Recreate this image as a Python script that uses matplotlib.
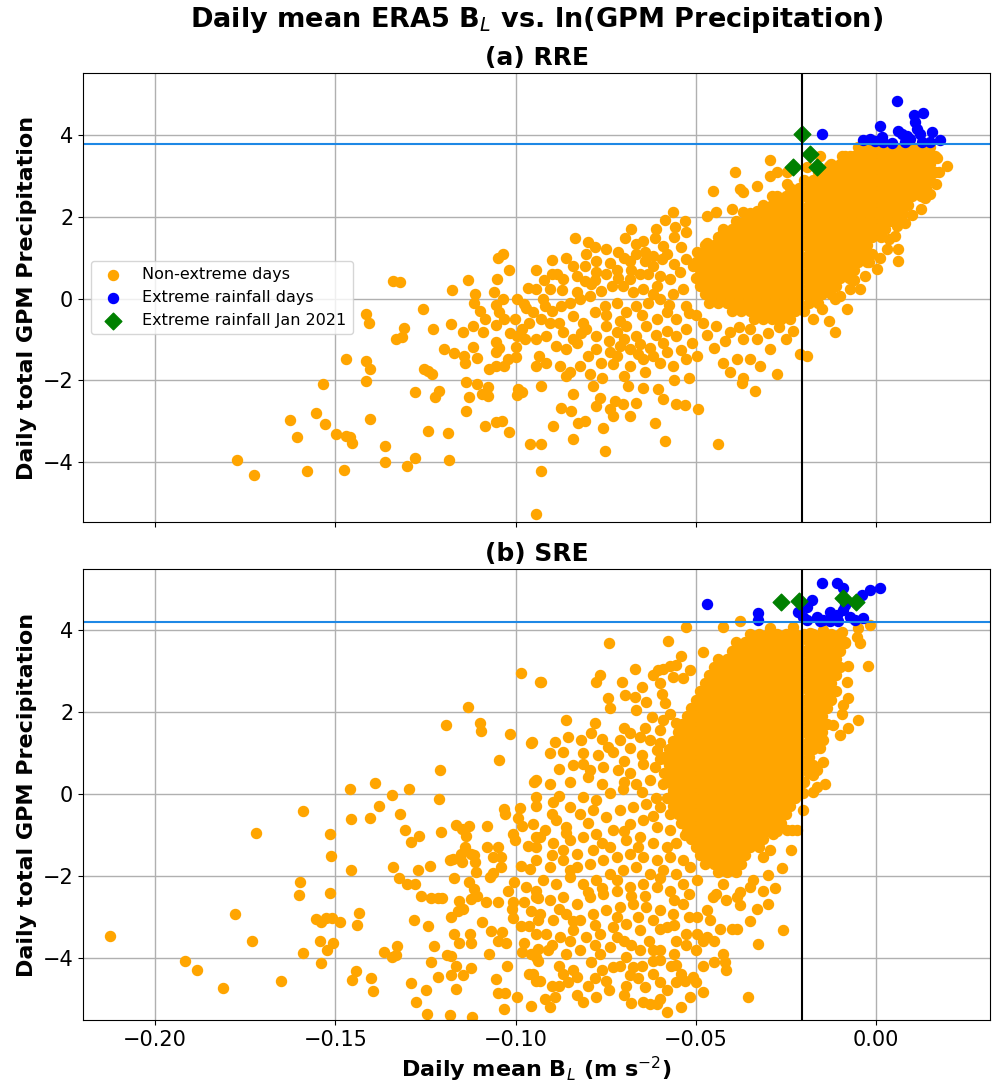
import matplotlib
matplotlib.use("Agg")
import matplotlib.pyplot as plt

# ---------------- thresholds ----------------
rre_rain_threshold = 3.78
sre_rain_threshold = 4.20
bl_threshold = -0.0205

# ---------------- (a) RRE : non-extreme days (scattered points) ----------------
rre_points = [
    (-0.1534, -2.08), (-0.1415, -2.01), (-0.1278, -2.29), (-0.1212, -2.27), (-0.1223, -2.41), (-0.1138, -2.05),
    (-0.1106, -2.09), (-0.1076, -2.17), (-0.1129, -2.41), (-0.1094, -2.34), (-0.1076, -2.38), (-0.1138, -2.76),
    (-0.0994, -2.21), (-0.0982, -2.29), (-0.0997, -2.35), (-0.0930, -2.13), (-0.1625, -2.98), (-0.1555, -2.80),
    (-0.1530, -3.07), (-0.1607, -3.40), (-0.1405, -2.95), (-0.1498, -3.31), (-0.1471, -3.37), (-0.1459, -3.39),
    (-0.1455, -3.54), (-0.1361, -3.60), (-0.1242, -3.24), (-0.1187, -3.28), (-0.1085, -3.13), (-0.1055, -3.02),
    (-0.1039, -3.01), (-0.1018, -3.27), (-0.0960, -3.57), (-0.0930, -3.55), (-0.1772, -3.96), (-0.1727, -4.33),
    (-0.1579, -4.21), (-0.1476, -4.20), (-0.1362, -3.99), (-0.1300, -4.11), (-0.1278, -3.90), (-0.1184, -3.95),
    (-0.0930, -4.23), (-0.0944, -5.27),
    (-0.1050, 1.00), (-0.1034, 1.09), (-0.1018, 0.70), (-0.1053, 0.47), (-0.1131, 0.46), (-0.1340, 0.43),
    (-0.1320, 0.41), (-0.1177, 0.21), (-0.1112, 0.12), (-0.1061, 0.15), (-0.1036, -0.02), (-0.0997, 0.00),
    (-0.0967, 0.25), (-0.1115, -0.10), (-0.1055, -0.16), (-0.0976, -0.14), (-0.1258, -0.25), (-0.1098, -0.30),
    (-0.1085, -0.49), (-0.1045, -0.34), (-0.1031, -0.51), (-0.1002, -0.51), (-0.0971, -0.22), (-0.0962, -0.60),
    (-0.1416, -0.38), (-0.1408, -0.59), (-0.1309, -0.71), (-0.1332, -1.00), (-0.1316, -0.93), (-0.1229, -0.75),
    (-0.1180, -0.63), (-0.1118, -0.67), (-0.1145, -0.82), (-0.1090, -0.83), (-0.1055, -0.65), (-0.1015, -0.85),
    (-0.0997, -0.92), (-0.0981, -0.75), (-0.0973, -1.00), (-0.1198, -1.23), (-0.1172, -1.34), (-0.1118, -1.18),
    (-0.1143, -1.41), (-0.1107, -1.46), (-0.1055, -1.06), (-0.1045, -1.20), (-0.1000, -1.18), (-0.1055, -1.32),
    (-0.1022, -1.49), (-0.1000, -1.42), (-0.0934, -1.41), (-0.1140, -1.57), (-0.1073, -1.73), (-0.1055, -1.65),
    (-0.1033, -1.65), (-0.1254, -1.72), (-0.1243, -1.77), (-0.1231, -1.85), (-0.1471, -1.49), (-0.1414, -1.53),
    (-0.1405, -1.73),
    (-0.0943, 0.70), (-0.0898, 0.60), (-0.0885, 0.60), (-0.0836, 1.47), (-0.0799, 1.39), (-0.0781, 1.25),
    (-0.0804, 1.09), (-0.0841, 0.80), (-0.0808, 0.80), (-0.0776, 0.92), (-0.0739, 0.88), (-0.0716, 1.13),
    (-0.0697, 1.47), (-0.0667, 1.33), (-0.0646, 1.41), (-0.0665, 1.09), (-0.0683, 0.92), (-0.0642, 0.92),
    (-0.0614, 1.48), (-0.0591, 1.29), (-0.0586, 1.93), (-0.0563, 2.11), (-0.0558, 1.74), (-0.0526, 1.62),
    (-0.0595, 0.96), (-0.0619, 0.80), (-0.0632, 0.60), (-0.0656, 0.60), (-0.0683, 0.47), (-0.0716, 0.51),
    (-0.0748, 0.60), (-0.0776, 0.64), (-0.0808, 0.43), (-0.0831, 0.56), (-0.0869, 0.47), (-0.0906, 0.23),
    (-0.0924, -0.02), (-0.0943, 0.23), (-0.0919, -0.18), (-0.0952, -0.34), (-0.0929, -0.51), (-0.0906, -0.59),
    (-0.0873, -0.18), (-0.0850, -0.10), (-0.0822, -0.02), (-0.0794, 0.07), (-0.0762, 0.19), (-0.0734, 0.31),
    (-0.0702, 0.31), (-0.0674, 0.15), (-0.0646, 0.23), (-0.0609, 0.31), (-0.0572, 0.47), (-0.0544, 0.64),
    (-0.0526, 0.96), (-0.0841, -0.42), (-0.0813, -0.59), (-0.0781, -0.34), (-0.0753, -0.18), (-0.0720, -0.10),
    (-0.0693, -0.34), (-0.0665, -0.18), (-0.0632, -0.10), (-0.0600, -0.02), (-0.0563, 0.11), (-0.0535, 0.23),
    (-0.0869, -0.83), (-0.0841, -1.00), (-0.0804, -0.75), (-0.0776, -0.92), (-0.0748, -0.67), (-0.0720, -0.83),
    (-0.0693, -0.67), (-0.0665, -0.92), (-0.0637, -0.67), (-0.0609, -0.51), (-0.0581, -0.34), (-0.0554, -0.51),
    (-0.0526, -0.18), (-0.0943, -1.00), (-0.0915, -0.92), (-0.0887, -1.16), (-0.0859, -1.24), (-0.0831, -1.08),
    (-0.0776, -1.24), (-0.0739, -1.32), (-0.0711, -1.16), (-0.0683, -1.24), (-0.0656, -1.12), (-0.0628, -1.20),
    (-0.0591, -1.08), (-0.0554, -0.92), (-0.0526, -0.75), (-0.0943, -1.65), (-0.0915, -1.57), (-0.0878, -1.65),
    (-0.0850, -1.81), (-0.0822, -1.65), (-0.0794, -1.85), (-0.0762, -1.57), (-0.0730, -1.61), (-0.0683, -1.65),
    (-0.0646, -1.49), (-0.0600, -1.57), (-0.0563, -1.65), (-0.0526, -1.49), (-0.0498, -1.41), (-0.0859, -1.90),
    (-0.0785, -2.14), (-0.0767, -2.43), (-0.0841, -2.34), (-0.0776, -2.63), (-0.0739, -2.71), (-0.0725, -2.51),
    (-0.0702, -2.59), (-0.0665, -2.55), (-0.0688, -2.14), (-0.0646, -2.18), (-0.0605, -2.22), (-0.0591, -2.47),
    (-0.0683, -2.88), (-0.0730, -2.88), (-0.0873, -2.67), (-0.0845, -2.75), (-0.0896, -3.12), (-0.0827, -3.04),
    (-0.0808, -3.00), (-0.0757, -3.16), (-0.0614, -3.04), (-0.0554, -2.59), (-0.0531, -2.61), (-0.0494, -2.71),
    (-0.0841, -3.45), (-0.0753, -3.73), (-0.0586, -3.49), (-0.0438, -3.57),
    (-0.0452, 2.64), (-0.0392, 3.09), (-0.0378, 2.68), (-0.0369, 2.60), (-0.0331, 2.76), (-0.0294, 3.40),
    (-0.0294, 3.01), (-0.0276, 3.09), (-0.0248, 2.80), (-0.0290, 2.52), (-0.0401, 2.19), (-0.0369, 2.11),
    (-0.0331, 2.15), (-0.0443, 2.11), (-0.0470, 2.03), (-0.0424, 1.62), (-0.0470, 1.37), (-0.0498, 1.13),
    (-0.0507, 0.80), (-0.0443, -0.67), (-0.0406, -0.83), (-0.0369, -1.00), (-0.0331, -1.00), (-0.0294, -1.24),
    (-0.0350, -1.49), (-0.0322, -1.65), (-0.0387, -1.49), (-0.0424, -1.57), (-0.0406, -1.81), (-0.0369, -1.94),
    (-0.0373, -2.06), (-0.0336, -2.26), (-0.0276, -1.85), (-0.0211, -1.36), (-0.0193, -1.41), (-0.0114, -0.83),
    (-0.0174, -0.51), (-0.0081, -0.26), (-0.0114, -0.02), (-0.0072, 0.23), (-0.0044, 0.23), (0.0002, 0.72),
    (0.0030, 1.21), (0.0062, 1.21), (0.0062, 0.92), (0.0053, 1.54), (0.0057, 1.78), (0.0136, 2.45),
    (0.0196, 3.24), (-0.0156, 3.50), (-0.0132, 3.25), (-0.0095, 3.50), (-0.0146, 2.92), (-0.0072, 3.50),
    (-0.0193, 3.21), (-0.0248, 3.09),
    (-0.0500, -0.40), (-0.0470, -0.90), (-0.0510, -1.10), (-0.0450, -1.20), (-0.0480, -0.60), (-0.0420, -1.05),
    (-0.0380, -0.70), (-0.0350, -0.75), (-0.0300, -0.85), (-0.0270, -0.70), (-0.0250, -1.00), (-0.0230, -0.80),
    (-0.0150, -0.25), (-0.0130, -0.55), (-0.0100, 0.05), (-0.0060, 0.45), (-0.0030, 0.55), (-0.0020, 0.90),
    (0.0010, 1.00), (0.0035, 1.45), (0.0080, 1.85), (0.0100, 2.05), (0.0125, 2.20), (0.0150, 2.55),
    (0.0165, 2.80), (0.0175, 3.10), (0.0170, 3.45),
    (-0.0870, 0.20), (-0.0830, 0.15), (-0.0790, 0.35), (-0.0750, -0.40), (-0.0710, -0.55), (-0.0680, 0.70),
    (-0.0650, -0.40), (-0.0620, 0.10), (-0.0600, 0.55), (-0.0575, -0.15), (-0.0560, 0.85), (-0.0540, 1.25),
    (-0.0520, -0.35), (-0.0580, -0.80), (-0.0610, -0.90), (-0.0700, -1.00), (-0.0740, -1.05), (-0.0800, -1.40),
    (-0.0720, -1.40), (-0.0660, -1.35), (-0.0620, -1.40), (-0.0580, -1.30), (-0.0540, -1.25), (-0.0640, -1.80),
    (-0.0700, -1.90), (-0.0760, -1.95), (-0.0560, -2.00), (-0.0520, -1.95), (-0.0900, -0.30), (-0.0880, -0.60),
    (-0.0820, -0.85), (-0.0780, 0.45), (-0.0720, 0.70), (-0.0700, 1.00), (-0.0640, 1.15), (-0.0620, 1.05),
    (-0.0580, 1.10), (-0.0560, 1.50), (-0.0530, 1.90), (-0.0610, 1.70), (-0.0680, 1.70), (-0.0750, 1.20),
    (-0.0860, 1.00), (-0.0900, 0.95), (-0.0920, 0.45),
]

# (a) RRE : densely packed part of the non-extreme cloud, read row by row
rre_core_rows_y = [3.7, 3.5, 3.3, 3.1, 2.9, 2.7, 2.5, 2.3, 2.1, 1.9, 1.7, 1.5, 1.3, 1.1, 0.9, 0.7, 0.5, 0.3,
                   0.1, -0.1, -0.3, -0.5]
rre_core_rows_x = [
    [-0.005, -0.0025, 0.0, 0.0025, 0.005, 0.0075, 0.01, 0.0125, 0.015],
    [-0.00875, -0.00625, -0.00375, -0.00125, 0.00125, 0.00375, 0.00625, 0.00875, 0.01125, 0.01375, 0.01625],
    [-0.0125, -0.01, -0.0075, -0.005, -0.0025, 0.0, 0.0025, 0.005, 0.0075, 0.01, 0.0125, 0.015],
    [-0.01625, -0.01375, -0.01125, -0.00875, -0.00625, -0.00375, -0.00125, 0.00125, 0.00375, 0.00625, 0.00875,
     0.01125, 0.01375, 0.01625],
    [-0.02, -0.0175, -0.015, -0.0125, -0.01, -0.0075, -0.005, -0.0025, 0.0, 0.0025, 0.005, 0.0075, 0.01, 0.0125,
     0.015],
    [-0.02375, -0.02125, -0.01875, -0.01625, -0.01375, -0.01125, -0.00875, -0.00625, -0.00375, -0.00125, 0.00125,
     0.00375, 0.00625, 0.00875, 0.01125, 0.01375],
    [-0.0275, -0.025, -0.0225, -0.02, -0.0175, -0.015, -0.0125, -0.01, -0.0075, -0.005, -0.0025, 0.0, 0.0025,
     0.005, 0.0075, 0.01, 0.0125],
    [-0.03125, -0.02875, -0.02625, -0.02375, -0.02125, -0.01875, -0.01625, -0.01375, -0.01125, -0.00875, -0.00625,
     -0.00375, -0.00125, 0.00125, 0.00375, 0.00625, 0.00875],
    [-0.035, -0.0325, -0.03, -0.0275, -0.025, -0.0225, -0.02, -0.0175, -0.015, -0.0125, -0.01, -0.0075, -0.005,
     -0.0025, 0.0, 0.0025, 0.005, 0.0075],
    [-0.03875, -0.03625, -0.03375, -0.03125, -0.02875, -0.02625, -0.02375, -0.02125, -0.01875, -0.01625, -0.01375,
     -0.01125, -0.00875, -0.00625, -0.00375, -0.00125, 0.00125, 0.00375, 0.00625],
    [-0.0425, -0.04, -0.0375, -0.035, -0.0325, -0.03, -0.0275, -0.025, -0.0225, -0.02, -0.0175, -0.015, -0.0125,
     -0.01, -0.0075, -0.005, -0.0025, 0.0, 0.0025],
    [-0.04375, -0.04125, -0.03875, -0.03625, -0.03375, -0.03125, -0.02875, -0.02625, -0.02375, -0.02125, -0.01875,
     -0.01625, -0.01375, -0.01125, -0.00875, -0.00625, -0.00375, -0.00125, 0.00125],
    [-0.0475, -0.045, -0.0425, -0.04, -0.0375, -0.035, -0.0325, -0.03, -0.0275, -0.025, -0.0225, -0.02, -0.0175,
     -0.015, -0.0125, -0.01, -0.0075, -0.005, -0.0025],
    [-0.04875, -0.04625, -0.04375, -0.04125, -0.03875, -0.03625, -0.03375, -0.03125, -0.02875, -0.02625, -0.02375,
     -0.02125, -0.01875, -0.01625, -0.01375, -0.01125, -0.00875, -0.00625, -0.00375, -0.00125],
    [-0.05, -0.0475, -0.045, -0.0425, -0.04, -0.0375, -0.035, -0.0325, -0.03, -0.0275, -0.025, -0.0225, -0.02,
     -0.0175, -0.015, -0.0125, -0.01, -0.0075, -0.005, -0.0025],
    [-0.04875, -0.04625, -0.04375, -0.04125, -0.03875, -0.03625, -0.03375, -0.03125, -0.02875, -0.02625, -0.02375,
     -0.02125, -0.01875, -0.01625, -0.01375, -0.01125, -0.00875, -0.00625],
    [-0.05, -0.0475, -0.045, -0.0425, -0.04, -0.0375, -0.035, -0.0325, -0.03, -0.0275, -0.025, -0.0225, -0.02,
     -0.0175, -0.015, -0.0125, -0.01, -0.0075],
    [-0.04875, -0.04625, -0.04375, -0.04125, -0.03875, -0.03625, -0.03375, -0.03125, -0.02875, -0.02625, -0.02375,
     -0.02125, -0.01875, -0.01625, -0.01375, -0.01125],
    [-0.0475, -0.045, -0.0425, -0.04, -0.0375, -0.035, -0.0325, -0.03, -0.0275, -0.025, -0.0225, -0.02, -0.0175,
     -0.015, -0.0125],
    [-0.04625, -0.04375, -0.04125, -0.03875, -0.03625, -0.03375, -0.03125, -0.02875, -0.02625, -0.02375, -0.02125,
     -0.01875, -0.01625],
    [-0.04, -0.0375, -0.035, -0.0325, -0.03, -0.0275, -0.025, -0.0225, -0.02],
    [-0.03375, -0.03125, -0.02875, -0.02625, -0.02375],
]

rre_extreme = [
    (-0.0149, 4.03), (-0.0035, 3.88), (-0.0017, 3.91), (-0.0003, 3.86), (0.0011, 4.23), (0.0016, 3.95),
    (0.0044, 3.80), (0.0057, 4.84), (0.0062, 4.11), (0.0071, 4.03), (0.0085, 3.99), (0.0104, 4.48),
    (0.0108, 4.31), (0.0113, 4.15), (0.0122, 4.03), (0.0131, 4.54), (0.0127, 3.82), (0.0150, 3.82),
    (0.0155, 4.08), (0.0178, 3.88), (0.0094, 3.91), (0.0081, 3.82), (0.0020, 3.82),
]
rre_jan2021 = [(-0.0205, 4.03), (-0.0183, 3.54), (-0.0230, 3.21), (-0.0163, 3.21)]

# ---------------- (b) SRE : non-extreme days (scattered points) ----------------
sre_points = [
    (-0.0985, 2.96), (-0.0932, 2.74), (-0.1131, 2.13), (-0.1194, 1.68), (-0.1098, 1.74), (-0.1096, 1.54),
    (-0.1016, 1.45), (-0.0955, 1.26),
    (-0.2125, -3.48), (-0.1916, -4.07), (-0.1884, -4.30), (-0.1813, -4.74), (-0.1778, -2.94), (-0.1732, -3.58),
    (-0.1719, -0.96), (-0.1651, -4.57), (-0.1591, -0.43), (-0.1598, -2.14), (-0.1602, -2.48), (-0.1590, -3.89),
    (-0.1555, -3.06), (-0.1539, -3.12), (-0.1527, -3.04), (-0.1510, -3.02), (-0.1544, -3.59), (-0.1524, -3.81),
    (-0.1506, -3.63), (-0.1540, -4.12), (-0.1516, -0.98), (-0.1512, -1.52), (-0.1516, -2.41), (-0.1487, -3.14),
    (-0.1459, 0.11), (-0.1390, 0.26), (-0.1456, -0.61), (-0.1405, -0.59), (-0.1344, -0.02), (-0.1295, 0.11),
    (-0.1380, -0.30), (-0.1321, -0.50), (-0.1306, -0.87), (-0.1267, -1.02), (-0.1289, -1.18), (-0.1458, -1.86),
    (-0.1435, -2.90), (-0.1439, -3.19), (-0.1341, -1.79), (-0.1324, -2.05), (-0.1301, -2.21), (-0.1280, -2.19),
    (-0.1271, -1.86), (-0.1237, -1.75), (-0.1263, -2.50), (-0.1235, -2.55), (-0.1214, -2.55), (-0.1203, -2.55),
    (-0.1281, -3.08), (-0.1243, -3.22), (-0.1227, -3.72), (-0.1234, -4.10), (-0.1214, -4.47), (-0.1248, -4.78),
    (-0.1277, -5.09), (-0.1290, -4.61), (-0.1247, -5.38), (-0.1182, -5.39), (-0.1121, -5.44), (-0.1211, 0.59),
    (-0.1212, -0.12), (-0.1206, -0.94), (-0.1181, -1.61), (-0.1171, -2.05), (-0.1180, -3.00), (-0.1171, -3.41),
    (-0.1157, -3.65), (-0.1124, -3.63), (-0.1127, -3.42), (-0.1191, -3.94), (-0.1180, -3.97), (-0.1165, -4.20),
    (-0.1145, -4.43), (-0.1124, -4.26), (-0.1179, -4.43), (-0.1165, -4.77), (-0.1365, -3.85), (-0.1330, -3.71),
    (-0.1332, -3.94), (-0.1344, -3.99), (-0.1442, -4.32), (-0.1455, -4.55), (-0.1400, -4.50), (-0.1395, -4.82),
    (-0.1166, -0.77), (-0.1148, -0.86), (-0.1129, -0.79), (-0.1138, -1.02), (-0.1080, -0.79), (-0.1047, 0.83),
    (-0.1031, -0.37), (-0.1029, -0.49), (-0.0987, -0.35), (-0.0994, -0.59), (-0.1008, -0.98), (-0.0983, -0.79),
    (-0.1001, -1.12), (-0.0965, -1.28), (-0.0944, -0.29), (-0.0943, -1.06), (-0.0950, 0.29),
    (-0.1175, -1.59), (-0.1152, -1.47), (-0.1140, -1.30), (-0.1124, -1.47), (-0.1115, -1.49), (-0.1148, -1.67),
    (-0.1113, -1.67), (-0.1111, -1.90), (-0.1078, -1.29), (-0.1050, -1.30), (-0.1064, -1.55), (-0.1041, -1.55),
    (-0.1041, -1.78), (-0.1072, -2.04), (-0.1064, -1.92), (-0.0985, -1.75), (-0.0959, -1.83),
    (-0.1129, -2.16), (-0.1115, -2.32), (-0.1106, -2.49), (-0.1124, -2.57), (-0.1156, -2.61), (-0.1147, -2.81),
    (-0.1161, -2.85), (-0.1082, -2.65), (-0.1050, -2.65), (-0.1022, -2.36), (-0.1004, -2.16), (-0.0971, -2.28),
    (-0.0943, -2.36), (-0.0939, -2.55), (-0.1008, -2.65), (-0.1011, -2.81), (-0.0976, -2.65), (-0.0957, -2.85),
    (-0.1006, -3.03), (-0.0985, -3.22), (-0.0964, -3.22), (-0.0938, -3.08), (-0.1092, -3.12), (-0.1067, -3.34),
    (-0.1038, -3.38), (-0.1048, -3.59), (-0.1027, -3.65), (-0.1073, -3.91), (-0.1025, -4.20), (-0.1055, -4.51),
    (-0.1050, -4.87), (-0.1029, -4.87), (-0.0996, -4.97), (-0.0956, -5.18), (-0.1033, -5.24), (-0.0976, -3.63),
    (-0.0982, -3.85), (-0.0944, -3.42), (-0.0939, -3.79), (-0.0956, -3.91), (-0.0944, -3.99), (-0.0964, -4.40),
    (-0.0944, -4.56),
    (-0.0528, 4.08), (-0.0577, 3.74), (-0.0742, 3.68), (-0.0540, 3.37), (-0.0480, 3.47), (-0.0424, 4.08),
    (-0.0378, 4.21), (-0.0294, 4.04), (-0.0230, 4.08), (-0.0183, 3.92), (-0.0146, 4.00), (-0.0095, 3.96),
    (-0.0049, 4.04), (-0.0017, 4.12), (-0.0054, 3.84), (-0.0046, 3.69), (-0.0086, 3.68), (-0.0023, 3.12),
    (-0.0077, 3.11), (-0.0081, 2.74), (-0.0077, 2.33), (-0.0091, 2.17), (-0.0095, 1.96), (-0.0051, 1.80),
    (-0.0077, 1.61), (-0.0100, 1.43), (-0.0119, 1.68), (-0.0146, 1.31), (-0.0156, 1.11), (-0.0146, 0.78),
    (-0.0165, 0.58), (-0.0174, 0.46), (-0.0142, 0.25), (-0.0165, 0.17), (-0.0174, 0.05), (-0.0202, 0.01),
    (-0.0202, -0.40), (-0.0234, -0.89), (-0.0220, -0.89), (-0.0248, -0.89), (-0.0236, -1.36), (-0.0285, -0.97),
    (-0.0294, -1.38), (-0.0313, -1.54), (-0.0299, -1.99), (-0.0341, -2.11), (-0.0313, -2.36), (-0.0350, -2.27),
    (-0.0378, -2.40), (-0.0387, -2.52), (-0.0378, -2.72), (-0.0424, -2.19), (-0.0443, -2.44), (-0.0415, -2.60),
    (-0.0452, -2.52), (-0.0257, -3.33), (-0.0327, -3.66), (-0.0355, -4.96), (-0.0387, -3.29), (-0.0433, -3.29),
    (-0.0461, -3.09), (-0.0424, -3.90), (-0.0420, -4.11), (-0.0415, -4.31), (-0.0470, -2.84), (-0.0498, -3.01),
    (-0.0498, -3.41), (-0.0470, -3.50), (-0.0526, -3.41), (-0.0526, -3.70), (-0.0507, -4.47), (-0.0554, -4.19),
    (-0.0531, -4.56), (-0.0554, -4.60), (-0.0581, -5.33), (-0.0600, -4.06), (-0.0517, -4.96), (-0.0480, -4.84),
    (-0.0642, -4.72), (-0.0646, -5.09), (-0.0628, -5.13), (-0.0609, -5.13), (-0.0683, -4.43), (-0.0693, -4.68),
    (-0.0748, -4.56), (-0.0776, -4.96), (-0.0813, -5.09), (-0.0855, -4.60), (-0.0869, -4.39), (-0.0831, -4.47),
    (-0.0892, -4.96), (-0.0919, -5.00), (-0.0906, -5.21), (-0.0952, -4.39), (-0.0933, -4.56), (-0.0952, -3.90),
    (-0.0938, -4.07), (-0.0910, -3.82),
    (-0.0929, 2.74), (-0.0767, 2.90), (-0.0776, 2.74), (-0.0706, 2.74), (-0.0744, 2.33), (-0.0739, 2.09),
    (-0.0697, 2.41), (-0.0669, 3.06), (-0.0669, 2.37), (-0.0637, 2.25), (-0.0665, 2.05), (-0.0604, 3.02),
    (-0.0591, 3.06), (-0.0572, 3.11), (-0.0554, 3.15), (-0.0600, 2.70), (-0.0563, 2.86), (-0.0535, 2.82),
    (-0.0517, 3.02), (-0.0595, 2.45), (-0.0586, 2.21), (-0.0572, 1.96), (-0.0591, 1.80), (-0.0623, 1.88),
    (-0.0600, 1.56), (-0.0554, 1.72), (-0.0859, 1.80),
    (-0.0892, 1.27), (-0.0855, 1.39), (-0.0818, 1.31), (-0.0781, 1.72), (-0.0790, 1.48), (-0.0744, 1.15),
    (-0.0711, 1.31), (-0.0683, 1.48), (-0.0656, 1.39), (-0.0628, 1.31), (-0.0609, 1.07), (-0.0683, 1.11),
    (-0.0730, 1.03), (-0.0771, 0.95), (-0.0813, 0.99), (-0.0869, 1.03), (-0.0906, 0.99), (-0.0956, 1.23),
    (-0.0813, 0.74), (-0.0794, 0.58), (-0.0757, 0.66), (-0.0716, 0.58), (-0.0683, 0.50), (-0.0646, 0.74),
    (-0.0614, 0.66), (-0.0581, 0.82), (-0.0554, 0.50), (-0.0943, 0.33), (-0.0906, 0.25), (-0.0943, -0.07),
    (-0.0896, -0.20), (-0.0850, -0.32), (-0.0813, -0.07), (-0.0776, -0.15), (-0.0739, 0.01), (-0.0702, 0.13),
    (-0.0665, 0.25), (-0.0628, 0.33), (-0.0591, 0.25), (-0.0563, 0.01),
    (-0.0952, -0.73), (-0.0919, -0.89), (-0.0887, -0.64), (-0.0859, -0.81), (-0.0822, -0.48), (-0.0785, -0.40),
    (-0.0748, -0.56), (-0.0711, -0.40), (-0.0674, -0.32), (-0.0637, -0.24), (-0.0600, -0.32), (-0.0572, -0.48),
    (-0.0683, -0.73), (-0.0646, -0.64), (-0.0609, -0.81), (-0.0572, -0.89), (-0.0730, -0.89), (-0.0776, -0.97),
    (-0.0813, -1.05), (-0.0850, -1.13), (-0.0896, -1.21), (-0.0943, -1.30), (-0.0933, -1.05), (-0.0869, -1.38),
    (-0.0831, -1.46), (-0.0785, -1.38), (-0.0739, -1.30), (-0.0693, -1.13), (-0.0656, -1.05), (-0.0619, -1.21),
    (-0.0581, -1.30), (-0.0554, -1.21),
    (-0.0943, -1.62), (-0.0906, -1.79), (-0.0869, -1.62), (-0.0831, -1.79), (-0.0794, -1.70), (-0.0757, -1.62),
    (-0.0720, -1.54), (-0.0683, -1.46), (-0.0646, -1.54), (-0.0609, -1.62), (-0.0572, -1.54), (-0.0535, -1.62),
    (-0.0924, -2.11), (-0.0887, -2.19), (-0.0850, -2.03), (-0.0813, -2.19), (-0.0776, -2.11), (-0.0739, -1.95),
    (-0.0702, -1.87), (-0.0665, -1.78), (-0.0628, -1.95), (-0.0591, -1.87), (-0.0554, -1.95), (-0.0517, -1.78),
    (-0.0943, -2.52), (-0.0906, -2.60), (-0.0869, -2.52), (-0.0831, -2.68), (-0.0794, -2.52), (-0.0757, -2.44),
    (-0.0720, -2.36), (-0.0683, -2.27), (-0.0646, -2.19), (-0.0609, -2.27), (-0.0572, -2.36), (-0.0535, -2.19),
    (-0.0498, -2.11),
    (-0.0933, -2.93), (-0.0896, -3.09), (-0.0859, -2.93), (-0.0822, -3.09), (-0.0785, -2.93), (-0.0748, -2.84),
    (-0.0711, -2.76), (-0.0674, -2.68), (-0.0637, -2.76), (-0.0600, -2.84), (-0.0563, -2.93), (-0.0535, -2.68),
    (-0.0915, -3.41), (-0.0878, -3.50), (-0.0841, -3.33), (-0.0804, -3.50), (-0.0767, -3.41), (-0.0730, -3.25),
    (-0.0693, -3.17), (-0.0656, -3.33), (-0.0619, -3.09), (-0.0581, -3.25), (-0.0554, -3.58), (-0.0822, -3.82),
    (-0.0767, -3.90), (-0.0739, -3.74), (-0.0693, -3.99), (-0.0656, -3.82), (-0.0619, -4.07), (-0.0674, -4.23),
    (-0.0730, -4.23),
    (-0.0880, -4.20), (-0.0800, -4.70), (-0.0760, -4.30), (-0.0700, -4.90), (-0.0660, -4.50), (-0.0620, -4.40),
    (-0.0580, -4.80), (-0.0900, -4.70), (-0.0860, -3.90), (-0.0790, -4.10), (-0.0700, -3.60), (-0.0630, -3.60),
    (-0.0600, -3.80), (-0.0570, -4.20), (-0.0500, -3.80), (-0.0480, -4.20), (-0.0450, -3.60), (-0.0400, -3.30),
    (-0.0350, -3.10), (-0.0330, -2.80), (-0.0300, -2.70), (-0.0280, -2.30), (-0.0260, -1.80),
    (-0.0900, -0.50), (-0.0860, -0.95), (-0.0800, -0.70), (-0.0760, -1.20), (-0.0700, -0.90), (-0.0660, -1.30),
    (-0.0620, -0.55), (-0.0580, -0.10), (-0.0540, -0.70), (-0.0530, -1.00), (-0.0900, -1.50), (-0.0850, -1.85),
    (-0.0800, -2.40), (-0.0760, -2.30), (-0.0720, -2.10), (-0.0680, -2.50), (-0.0640, -2.50), (-0.0600, -2.05),
    (-0.0560, -2.60), (-0.0520, -2.45), (-0.0880, -2.80), (-0.0840, -3.10), (-0.0780, -3.20), (-0.0720, -3.00),
    (-0.0660, -3.00), (-0.0600, -3.30), (-0.0560, -3.20), (-0.0520, -3.00), (-0.0900, -3.70), (-0.0850, -3.60),
    (-0.0780, -3.70), (-0.0720, -3.50), (-0.0680, -3.70), (-0.0620, -3.80), (-0.0560, -3.90), (-0.0540, -4.40),
    (-0.0600, -4.60), (-0.0650, -4.20), (-0.0710, -4.20), (-0.0780, -4.50), (-0.0840, -4.30), (-0.0880, -4.70),
    (-0.0830, -4.90), (-0.0740, -4.80), (-0.0680, -5.10), (-0.0600, -5.00), (-0.0540, -5.20), (-0.0500, -4.60),
    (-0.0480, -3.60), (-0.0450, -4.10), (-0.0880, -0.05), (-0.0850, 0.30), (-0.0800, 0.40), (-0.0760, 0.25),
    (-0.0700, 0.30), (-0.0650, 0.05), (-0.0610, -0.10), (-0.0700, 0.80), (-0.0650, 0.95), (-0.0600, 0.85),
    (-0.0880, 0.60), (-0.0840, 0.70), (-0.0760, 1.35), (-0.0700, 1.60), (-0.0640, 1.60), (-0.0600, 1.25),
    (-0.0650, 2.60), (-0.0620, 2.90),
]

# (b) SRE : densely packed part of the non-extreme cloud, read row by row
sre_core_rows_y = [3.9, 3.7, 3.5, 3.3, 3.1, 2.9, 2.7, 2.5, 2.3, 2.1, 1.9, 1.7, 1.5, 1.3, 1.1, 0.9, 0.7, 0.5,
                   0.3, 0.1, -0.1, -0.3, -0.5, -0.7, -0.9, -1.1, -1.3, -1.5, -1.7, -1.9]
sre_core_rows_x = [
    [-0.035, -0.0325, -0.03, -0.0275, -0.025, -0.0225, -0.02, -0.0175, -0.015, -0.0125, -0.01],
    [-0.03875, -0.03625, -0.03375, -0.03125, -0.02875, -0.02625, -0.02375, -0.02125, -0.01875, -0.01625, -0.01375,
     -0.01125, -0.00875],
    [-0.04, -0.0375, -0.035, -0.0325, -0.03, -0.0275, -0.025, -0.0225, -0.02, -0.0175, -0.015, -0.0125, -0.01],
    [-0.04375, -0.04125, -0.03875, -0.03625, -0.03375, -0.03125, -0.02875, -0.02625, -0.02375, -0.02125, -0.01875,
     -0.01625, -0.01375, -0.01125],
    [-0.045, -0.0425, -0.04, -0.0375, -0.035, -0.0325, -0.03, -0.0275, -0.025, -0.0225, -0.02, -0.0175, -0.015,
     -0.0125, -0.01],
    [-0.04625, -0.04375, -0.04125, -0.03875, -0.03625, -0.03375, -0.03125, -0.02875, -0.02625, -0.02375, -0.02125,
     -0.01875, -0.01625, -0.01375, -0.01125],
    [-0.0475, -0.045, -0.0425, -0.04, -0.0375, -0.035, -0.0325, -0.03, -0.0275, -0.025, -0.0225, -0.02, -0.0175,
     -0.015, -0.0125],
    [-0.04875, -0.04625, -0.04375, -0.04125, -0.03875, -0.03625, -0.03375, -0.03125, -0.02875, -0.02625, -0.02375,
     -0.02125, -0.01875, -0.01625, -0.01375, -0.01125],
    [-0.05, -0.0475, -0.045, -0.0425, -0.04, -0.0375, -0.035, -0.0325, -0.03, -0.0275, -0.025, -0.0225, -0.02,
     -0.0175, -0.015, -0.0125],
    [-0.05125, -0.04875, -0.04625, -0.04375, -0.04125, -0.03875, -0.03625, -0.03375, -0.03125, -0.02875, -0.02625,
     -0.02375, -0.02125, -0.01875, -0.01625, -0.01375],
    [-0.0525, -0.05, -0.0475, -0.045, -0.0425, -0.04, -0.0375, -0.035, -0.0325, -0.03, -0.0275, -0.025, -0.0225,
     -0.02, -0.0175, -0.015],
    [-0.05375, -0.05125, -0.04875, -0.04625, -0.04375, -0.04125, -0.03875, -0.03625, -0.03375, -0.03125, -0.02875,
     -0.02625, -0.02375, -0.02125, -0.01875, -0.01625, -0.01375],
    [-0.055, -0.0525, -0.05, -0.0475, -0.045, -0.0425, -0.04, -0.0375, -0.035, -0.0325, -0.03, -0.0275, -0.025,
     -0.0225, -0.02, -0.0175, -0.015],
    [-0.05625, -0.05375, -0.05125, -0.04875, -0.04625, -0.04375, -0.04125, -0.03875, -0.03625, -0.03375, -0.03125,
     -0.02875, -0.02625, -0.02375, -0.02125, -0.01875, -0.01625],
    [-0.0575, -0.055, -0.0525, -0.05, -0.0475, -0.045, -0.0425, -0.04, -0.0375, -0.035, -0.0325, -0.03, -0.0275,
     -0.025, -0.0225, -0.02, -0.0175],
    [-0.05875, -0.05625, -0.05375, -0.05125, -0.04875, -0.04625, -0.04375, -0.04125, -0.03875, -0.03625, -0.03375,
     -0.03125, -0.02875, -0.02625, -0.02375, -0.02125, -0.01875],
    [-0.0575, -0.055, -0.0525, -0.05, -0.0475, -0.045, -0.0425, -0.04, -0.0375, -0.035, -0.0325, -0.03, -0.0275,
     -0.025, -0.0225, -0.02, -0.0175],
    [-0.05875, -0.05625, -0.05375, -0.05125, -0.04875, -0.04625, -0.04375, -0.04125, -0.03875, -0.03625, -0.03375,
     -0.03125, -0.02875, -0.02625, -0.02375, -0.02125, -0.01875],
    [-0.0575, -0.055, -0.0525, -0.05, -0.0475, -0.045, -0.0425, -0.04, -0.0375, -0.035, -0.0325, -0.03, -0.0275,
     -0.025, -0.0225, -0.02],
    [-0.05625, -0.05375, -0.05125, -0.04875, -0.04625, -0.04375, -0.04125, -0.03875, -0.03625, -0.03375, -0.03125,
     -0.02875, -0.02625, -0.02375, -0.02125],
    [-0.0575, -0.055, -0.0525, -0.05, -0.0475, -0.045, -0.0425, -0.04, -0.0375, -0.035, -0.0325, -0.03, -0.0275,
     -0.025, -0.0225],
    [-0.05625, -0.05375, -0.05125, -0.04875, -0.04625, -0.04375, -0.04125, -0.03875, -0.03625, -0.03375, -0.03125,
     -0.02875, -0.02625, -0.02375],
    [-0.055, -0.0525, -0.05, -0.0475, -0.045, -0.0425, -0.04, -0.0375, -0.035, -0.0325, -0.03, -0.0275, -0.025],
    [-0.05375, -0.05125, -0.04875, -0.04625, -0.04375, -0.04125, -0.03875, -0.03625, -0.03375, -0.03125, -0.02875,
     -0.02625],
    [-0.0525, -0.05, -0.0475, -0.045, -0.0425, -0.04, -0.0375, -0.035, -0.0325, -0.03, -0.0275],
    [-0.05125, -0.04875, -0.04625, -0.04375, -0.04125, -0.03875, -0.03625, -0.03375, -0.03125],
    [-0.05, -0.0475, -0.045, -0.0425, -0.04, -0.0375, -0.035, -0.0325],
    [-0.04875, -0.04625, -0.04375, -0.04125, -0.03875, -0.03625],
    [-0.0475, -0.045, -0.0425, -0.04, -0.0375],
    [-0.04375, -0.04125, -0.03875],
]

sre_extreme = [
    (-0.0469, 4.63), (-0.0327, 4.41), (-0.0327, 4.25), (-0.0216, 4.45), (-0.0202, 4.33), (-0.0193, 4.57),
    (-0.0179, 4.74), (-0.0151, 5.14), (-0.0109, 5.14), (-0.0091, 5.02), (-0.0165, 4.33), (-0.0146, 4.25),
    (-0.0128, 4.45), (-0.0109, 4.37), (-0.0091, 4.49), (-0.0072, 4.33), (-0.0058, 4.25), (-0.0040, 4.86),
    (-0.0035, 4.29), (-0.0017, 4.98), (0.0011, 5.02), (-0.0086, 4.61), (-0.0128, 4.21), (-0.0105, 4.21),
    (-0.0193, 4.25), (-0.0156, 4.21),
]
sre_jan2021 = [(-0.0265, 4.69), (-0.0213, 4.72), (-0.0091, 4.78), (-0.0056, 4.69)]

x_ticks = [-0.20, -0.15, -0.10, -0.05, 0.00]
y_ticks = [-4, -2, 0, 2, 4]

# ---------------- drawing ----------------
plt.rcParams['font.family'] = ['DejaVu Sans']

fig = plt.figure(figsize=(9.92, 10.83), dpi=100)
ax1 = fig.add_axes([0.0837, 0.518, 0.9143, 0.4146])
ax2 = fig.add_axes([0.0837, 0.0582, 0.9143, 0.4164])


def draw_panel(ax, pts, rows_y, rows_x, ext, jan, thr, title, ylim):
    core_x = [x for row in rows_x for x in row]
    core_y = [y for y, row in zip(rows_y, rows_x) for _ in row]
    nx = [p[0] for p in pts] + core_x
    ny = [p[1] for p in pts] + core_y
    ax.scatter(nx, ny, s=52, c='orange', label='Non-extreme days')
    ax.scatter([p[0] for p in ext], [p[1] for p in ext], s=52, c='blue', label='Extreme rainfall days')
    ax.scatter([p[0] for p in jan], [p[1] for p in jan], s=72, c='green', marker='D',
               label='Extreme rainfall Jan 2021')
    ax.axhline(thr, color='#1e88e5', lw=1.5)
    ax.axvline(bl_threshold, color='black', lw=1.5)
    ax.set_xlim(-0.22, 0.0316)
    ax.set_ylim(*ylim)
    ax.set_xticks(x_ticks)
    ax.set_yticks(y_ticks)
    ax.grid(True, color='#b0b0b0', lw=1.0)
    ax.set_axisbelow(True)
    ax.tick_params(labelsize=15)
    ax.set_title(title, fontsize=18, fontweight='bold')
    ax.set_ylabel('Daily total GPM Precipitation', fontsize=16, fontweight='bold')


draw_panel(ax1, rre_points, rre_core_rows_y, rre_core_rows_x, rre_extreme, rre_jan2021,
           rre_rain_threshold, '(a) RRE', (-5.47, 5.52))
draw_panel(ax2, sre_points, sre_core_rows_y, sre_core_rows_x, sre_extreme, sre_jan2021,
           sre_rain_threshold, '(b) SRE', (-5.52, 5.49))

ax1.tick_params(labelbottom=False)
ax1.legend(loc='center left', fontsize=11.5, markerscale=1.0)
ax2.set_xlabel('Daily mean B$_L$ (m s$^{-2}$)', fontsize=16, fontweight='bold')

fig.text(0.5413, 0.995, 'Daily mean ERA5 B$_L$ vs. ln(GPM Precipitation)', ha='center', va='top',
         fontsize=19.5, fontweight='bold')

fig.savefig('out.png', dpi=100)
